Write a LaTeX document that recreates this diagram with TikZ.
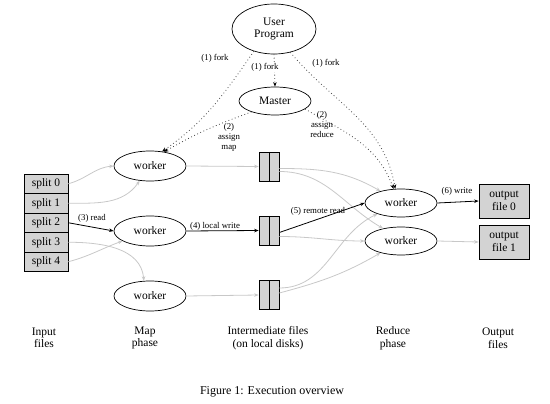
\documentclass[tikz,border=0pt]{standalone}
\usepackage{fontspec}
\setmainfont{Liberation Serif}
\usetikzlibrary{arrows.meta,shapes.geometric}
\definecolor{boxgray}{RGB}{211,211,211}
\definecolor{edgegray}{RGB}{200,200,200}
\definecolor{dotgray}{RGB}{70,70,70}
\begin{document}
\begin{tikzpicture}[x=1pt,y=-1pt,
  every node/.style={font=\fontsize{11.5}{12.5}\selectfont, align=center},
  proc/.style={draw, ellipse, line width=0.7pt, minimum width=72pt, minimum height=30pt, inner sep=0pt},
  splitbox/.style={draw, fill=boxgray, minimum width=44pt, minimum height=19.5pt, inner sep=0pt, line width=0.7pt},
  outbox/.style={draw, fill=boxgray, minimum width=50pt, minimum height=34pt, inner sep=0pt, line width=0.7pt},
  ifile/.style={draw, fill=boxgray, minimum width=20pt, minimum height=29pt, inner sep=0pt, line width=0.7pt,
    path picture={\draw[line width=0.7pt] (path picture bounding box.north) -- (path picture bounding box.south);}},
  lbl/.style={font=\fontsize{8.8}{10}\selectfont, inner sep=1pt},
  tip/.style={-{Stealth[length=4.5pt,width=3.5pt]}},
  garrow/.style={draw=edgegray, line width=0.8pt, tip},
  barrow/.style={draw=black, line width=0.8pt, tip},
  darrow/.style={draw=dotgray, line width=0.8pt, dash pattern=on 0.8pt off 2.6pt, -{Stealth[length=4.5pt,width=3.5pt,black]}},
]
\useasboundingbox (0,0) rectangle (550,404);
% nodes
\node[proc, minimum width=84pt, minimum height=50pt] (up) at (274,29) {User\\Program};
\node[proc, minimum height=28pt] (m) at (275,101) {Master};
\node[proc] (w1) at (150,166) {worker};
\node[proc] (w2) at (150,231) {worker};
\node[proc] (w3) at (150,296) {worker};
\node[splitbox] (s0) at (46,183.75) {split 0};
\node[splitbox] (s1) at (46,203.25) {split 1};
\node[splitbox] (s2) at (46,222.75) {split 2};
\node[splitbox] (s3) at (46,242.25) {split 3};
\node[splitbox] (s4) at (46,261.75) {split 4};
\node[ifile] (f1) at (269,166.5) {};
\node[ifile] (f2) at (269,230.5) {};
\node[ifile] (f3) at (269,295) {};
\node[proc, minimum height=28pt] (r1) at (401,203) {worker};
\node[proc, minimum height=28pt] (r2) at (401,241) {worker};
\node[outbox] (o0) at (504,201) {output\\file 0};
\node[outbox] (o1) at (504,242) {output\\file 1};
% bottom labels
\node (li) at (44,338) {Input\\files};
\node (lm) at (145,338) {Map\\phase};
\node (lf) at (268,338) {Intermediate files\\(on local disks)};
\node (lr) at (393,338) {Reduce\\phase};
\node (lo) at (498,338) {Output\\files};
\node[font=\fontsize{12}{13}\selectfont] (cap) at (272,392) {Figure 1: Execution overview};
% dotted control edges
\draw[darrow] (up.228) to[out=235,in=35] (w1.50);
\draw[darrow] (up.south) -- (m.north);
\draw[darrow] (up.305) to[out=-50,in=100] (r1.112);
\draw[darrow] (m.205) to[out=200,in=30] (w1.45);
\draw[darrow] (m.345) to[out=-30,in=110] (r1.118);
\node[lbl] (l1a) at (215,58) {(1) fork};
\node[lbl, fill=white] (l1b) at (265,67) {(1) fork};
\node[lbl] (l1c) at (326,63) {(1) fork};
\node[lbl] (l2a) at (229,137) {(2)\\assign\\map};
\node[lbl] (l2b) at (322,124) {(2)\\assign\\reduce};
% map inputs
\draw[garrow] (s0.east) to[out=15,in=185] (w1.west);
\draw[garrow] (s1.east) to[out=0,in=235] (w1.235);
\draw[barrow] (s2.east) to (w2.west);
\node[lbl] (l3) at (92,218) {(3) read};
\draw[garrow] (s3.east) to[out=0,in=95] (w3.112);
\draw[garrow] (s4.east) to[out=15,in=200] (w2.200);
% local writes
\draw[garrow] (w1.east) -- (f1.west);
\draw[barrow] (w2.east) -- (f2.west);
\node[lbl] (l4) at (215,226) {(4) local write};
\draw[garrow] (w3.east) -- (f3.west);
% remote reads
\draw[garrow] ([yshift=-2pt]f1.east) to[out=0,in=150] (r1.150);
\draw[garrow] ([yshift=-5pt]f1.east) to[out=0,in=150] (r2.145);
\draw[barrow] ([yshift=-2pt]f2.east) -- (r1.west);
\node[lbl] (l5) at (318,211) {(5) remote read};
\draw[garrow] ([yshift=-6pt]f2.east) to[out=0,in=180] (r2.west);
\draw[garrow] ([yshift=7pt]f3.east) to[out=0,in=205] (r1.205);
\draw[garrow] ([yshift=2pt]f3.east) to[out=15,in=210] (r2.210);
% outputs
\draw[barrow] (r1.east) -- (o0.west);
\node[lbl] (l6) at (457,191) {(6) write};
\draw[garrow] (r2.east) -- (o1.west);
\end{tikzpicture}
\end{document}
